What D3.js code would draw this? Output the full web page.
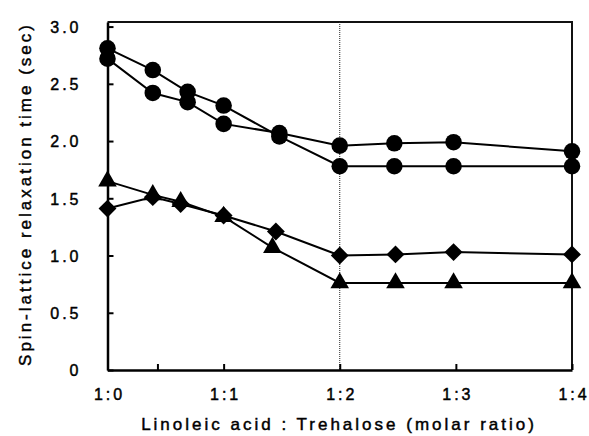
<!DOCTYPE html>
<html>
<head>
<meta charset="utf-8">
<script src="https://cdn.jsdelivr.net/npm/d3@7"></script>
<style>
  body { margin: 0; background: #fff; }
  text { font-family: "Liberation Sans", Arial, sans-serif; fill: #000; stroke: #000; stroke-width: 0.45px; }
</style>
</head>
<body>
<svg id="chart" width="589" height="436"></svg>
<script>
// axis ticks (x is the trehalose part of the molar ratio)
var xTicks = [0, 0.43, 1, 2, 3, 4];
var xTickLabels = ["1:0", "", "1:1", "1:2", "1:3", "1:4"];
var yTicks = [0, 0.5, 1, 1.5, 2, 2.5, 3];
var yTickLabels = ["0", "0.5", "1.0", "1.5", "2.0", "2.5", "3.0"];

// circles, two runs
var circleX = [0, 0.39, 0.69, 1, 1.48, 2, 2.47, 2.98, 4];
var circleA = [2.81, 2.62, 2.43, 2.31, 2.04, 1.78, 1.78, 1.78, 1.78];
var circleB = [2.72, 2.42, 2.34, 2.15, 2.07, 1.96, 1.98, 1.99, 1.91];

// diamonds
var diamondX = [0, 0.39, 0.63, 1, 1.45, 2, 2.48, 2.98, 4];
var diamondY = [1.41, 1.51, 1.45, 1.35, 1.21, 1.00, 1.01, 1.03, 1.01];

// triangles
var triangleX = [0, 0.39, 0.63, 1, 1.42, 2, 2.48, 2.98, 4];
var triangleY = [1.65, 1.53, 1.47, 1.34, 1.07, 0.76, 0.76, 0.76, 0.76];

var plotLeft = 107.5, plotRight = 572, plotTop = 22, plotBottom = 370;

var svg = d3.select("#chart");

var x = d3.scaleLinear().domain([0, 4]).range([plotLeft, plotRight]);
var y = d3.scaleLinear().domain([0, 3.04]).range([plotBottom, plotTop]);

// frame top / right
svg.append("path")
  .attr("d", "M" + plotLeft + "," + plotTop + "H" + plotRight + "V" + plotBottom)
  .attr("fill", "none")
  .attr("stroke", "#111")
  .attr("stroke-width", 2);

// dotted line at 1:2
svg.append("line")
  .attr("x1", x(2)).attr("x2", x(2))
  .attr("y1", plotTop).attr("y2", plotBottom)
  .attr("stroke", "#222")
  .attr("stroke-width", 1)
  .attr("stroke-dasharray", "1,1");

// x axis, ticks pointing inwards
var xAxis = d3.axisBottom(x)
  .tickValues(xTicks)
  .tickSizeInner(-6)
  .tickSizeOuter(0)
  .tickFormat((d, i) => xTickLabels[i]);

var xg = svg.append("g")
  .attr("transform", "translate(0," + plotBottom + ")")
  .call(xAxis);
xg.select(".domain").attr("stroke", "#000").attr("stroke-width", 2.5);
xg.selectAll(".tick line").attr("stroke", "#000").attr("stroke-width", 2);
xg.selectAll(".tick text")
  .attr("y", 30)
  .attr("dy", 0)
  .attr("dx", 1.5)
  .style("font-size", "16px")
  .style("letter-spacing", "3px");

// y axis
var yAxis = d3.axisLeft(y)
  .tickValues(yTicks)
  .tickSizeInner(-6)
  .tickSizeOuter(0)
  .tickFormat((d, i) => yTickLabels[i]);

var yg = svg.append("g")
  .attr("transform", "translate(" + plotLeft + ",0)")
  .call(yAxis);
yg.select(".domain").attr("stroke", "#000").attr("stroke-width", 2.5);
yg.selectAll(".tick line").attr("stroke", "#000").attr("stroke-width", 2);
yg.selectAll(".tick text")
  .attr("x", -26)
  .attr("dy", "0.36em")
  .style("font-size", "16px")
  .style("letter-spacing", "3px");

// axis titles
svg.append("text")
  .attr("x", 339)
  .attr("y", 430)
  .attr("text-anchor", "middle")
  .style("font-size", "17px")
  .style("letter-spacing", "3px")
  .text("Linoleic acid : Trehalose (molar ratio)");

svg.append("text")
  .attr("transform", "translate(31,194) rotate(-90)")
  .attr("text-anchor", "middle")
  .style("font-size", "17px")
  .style("letter-spacing", "3px")
  .text("Spin-lattice relaxation time (sec)");

// series
var line = d3.line()
  .x(d => x(d[0]))
  .y(d => y(d[1]));

// diamond = square turned 45 degrees, so it is as wide as it is tall
var series = [
  { xs: circleX, ys: circleA, shape: d3.symbolCircle, size: 215, rot: 0 },
  { xs: circleX, ys: circleB, shape: d3.symbolCircle, size: 215, rot: 0 },
  { xs: diamondX, ys: diamondY, shape: d3.symbolSquare, size: 160, rot: 45 },
  { xs: triangleX, ys: triangleY, shape: d3.symbolTriangle, size: 150, rot: 0 }
];

series.forEach(s => {
  var pts = s.xs.map((v, i) => [v, s.ys[i]]);
  svg.append("path")
    .datum(pts)
    .attr("d", line)
    .attr("fill", "none")
    .attr("stroke", "#000")
    .attr("stroke-width", 2);
});

series.forEach(s => {
  var pts = s.xs.map((v, i) => [v, s.ys[i]]);
  svg.append("g").selectAll("path")
    .data(pts)
    .enter()
    .append("path")
    .attr("d", d3.symbol().type(s.shape).size(s.size))
    .attr("transform", d => "translate(" + x(d[0]) + "," + y(d[1]) + ") rotate(" + s.rot + ")")
    .attr("fill", "#000");
});
</script>
</body>
</html>
